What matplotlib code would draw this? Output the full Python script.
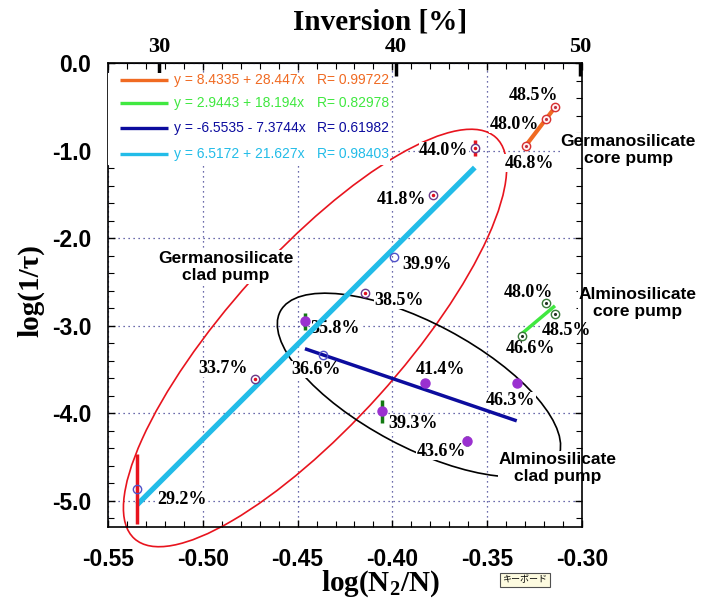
import numpy as np
import matplotlib.pyplot as plt
from matplotlib import transforms
from matplotlib.patches import Ellipse, Rectangle
from matplotlib.ticker import FixedLocator, MultipleLocator, NullLocator, FormatStrFormatter

plt.rcParams['axes.unicode_minus'] = False
plt.rcParams['mathtext.fontset'] = 'custom'
plt.rcParams['mathtext.rm'] = 'Liberation Serif:bold'
plt.rcParams['mathtext.it'] = 'Liberation Serif:bold'
plt.rcParams['mathtext.bf'] = 'Liberation Serif:bold'

# linear fits y = a + b*x
fit_a = [8.4335, 2.9443, -6.5535, 6.5172]
fit_b = [28.447, 18.194, -7.3744, 21.627]
fit_r = [0.99722, 0.82978, 0.61982, 0.98403]
fit_colors = ['#f06a22', '#40e840', '#0c0c9e', '#22bce8']

# measured points, x = log10(inversion)
ge_core_inv = [46.8, 48.0, 48.5]
ge_core_y = [-0.95, -0.64, -0.50]

al_core_inv = [46.6, 48.0, 48.5]
al_core_y = [-3.12, -2.74, -2.87]

al_clad_inv = [35.8, 39.3, 41.4, 43.6, 46.3]
al_clad_y = [-2.95, -3.98, -3.66, -4.32, -3.66]
al_clad_err = [0.10, 0.13, 0.0, 0.06, 0.0]

ge_clad_open_inv = [29.2, 36.6, 39.9]
ge_clad_open_y = [-4.87, -3.34, -2.22]
ge_clad_open_err = [0.40, 0.0, 0.0]

ge_clad_dot_inv = [33.7, 38.5, 41.8, 44.0]
ge_clad_dot_y = [-3.61, -2.63, -1.51, -0.97]
ge_clad_dot_err = [0.05, 0.0, 0.0, 0.09]

x_ticks = [-0.55, -0.50, -0.45, -0.40, -0.35, -0.30]
y_ticks = [0.0, -1.0, -2.0, -3.0, -4.0, -5.0]
top_ticks = [30, 40, 50]

# label offsets in pixels (dx, dy) for each point label
ge_core_off = [(4, -17), (-32, -5), (-21, 11)]
al_core_off = [(8, -12), (-18, 10), (12, -16)]
al_clad_off = [(30, -7), (31, -12), (16, 14), (-26, -10), (-6, -17)]
ge_clad_open_off = [(45, -10), (-7, -14), (33, -7)]
ge_clad_dot_off = [(-32, 11), (34, -7), (-31, -4), (-31, -3)]


def logx(inv):
    return np.log10(np.asarray(inv) / 100.0)


fig = plt.figure(figsize=(7.03, 6.06), dpi=100)
ax = fig.add_axes([108 / 703, 1 - 527 / 606, 474 / 703, 464 / 606])
ax.set_xlim(-0.55, -0.30)
ax.set_ylim(-5.3, 0.0)

ax.set_axisbelow(True)
ax.grid(True, which='major', linestyle=(0, (1, 3)), color='#3a3a90', linewidth=0.9)

serif = 'Liberation Serif'
sans = 'Liberation Sans'

# ellipses grouping the data (drawn in pixel units around a data centre)
def pixel_ellipse(cx, cy, a_px, b_px, angle, color, lw):
    tr = fig.dpi_scale_trans + transforms.ScaledTranslation(cx, cy, ax.transData)
    e = Ellipse((0, 0), 2 * a_px / fig.dpi, 2 * b_px / fig.dpi, angle=angle,
                transform=tr, fill=False, edgecolor=color, linewidth=lw,
                zorder=1.5, clip_on=False)
    ax.add_patch(e)

pixel_ellipse(-0.4408, -3.141, 270, 86, 48, '#e8141e', 1.2)
pixel_ellipse(-0.386, -3.678, 157, 62, -28, 'black', 1.2)

# fit lines
series_x = [logx(ge_core_inv), logx(al_core_inv), logx(al_clad_inv),
            logx(ge_clad_open_inv + ge_clad_dot_inv)]
line_w = [3.0, 2.5, 2.5, 3.8]
for xs, a, b, c, w in zip(series_x, fit_a, fit_b, fit_colors, line_w):
    xx = np.array([xs.min(), xs.max()])
    ax.plot(xx, a + b * xx, color=c, linewidth=w, solid_capstyle='butt', zorder=3)

# error bars
ax.errorbar(logx(al_clad_inv), al_clad_y, yerr=al_clad_err, fmt='none',
            ecolor='#127a12', elinewidth=2.5, capsize=0, zorder=3.5)
ax.errorbar(logx(ge_clad_open_inv), ge_clad_open_y, yerr=ge_clad_open_err, fmt='none',
            ecolor='#e8141e', elinewidth=2.5, capsize=0, zorder=3.5)
ax.errorbar(logx(ge_clad_dot_inv), ge_clad_dot_y, yerr=ge_clad_dot_err, fmt='none',
            ecolor='#e8141e', elinewidth=2.5, capsize=0, zorder=3.5)

# markers
ax.plot(logx(ge_core_inv), ge_core_y, 'o', ms=6, mfc='#fff0f0', mec='#d83030', mew=1, zorder=4)
ax.plot(logx(ge_core_inv), ge_core_y, '.', ms=2.5, color='#c03040', zorder=4.1)
ax.plot(logx(al_core_inv), al_core_y, 'o', ms=6, mfc='white', mec='#3a7a3a', mew=1, zorder=4)
ax.plot(logx(al_core_inv), al_core_y, '.', ms=2.5, color='#203020', zorder=4.1)
ax.plot(logx(al_clad_inv), al_clad_y, 'o', ms=6.5, mfc='#9a30d0', mec='#9a30d0', zorder=4)
ax.plot(logx(ge_clad_open_inv), ge_clad_open_y, 'o', ms=6, mfc='none', mec='#5050c8', mew=1, zorder=4)
ax.plot(logx(ge_clad_dot_inv), ge_clad_dot_y, 'o', ms=6, mfc='white', mec='#6a3a8a', mew=1, zorder=4)
ax.plot(logx(ge_clad_dot_inv), ge_clad_dot_y, '.', ms=3, color='#e01020', zorder=4.1)

# percent labels
label_box = dict(facecolor='white', edgecolor='none', pad=0.3)
for inv, ys, offs in [(ge_core_inv, ge_core_y, ge_core_off),
                      (al_core_inv, al_core_y, al_core_off),
                      (al_clad_inv, al_clad_y, al_clad_off),
                      (ge_clad_open_inv, ge_clad_open_y, ge_clad_open_off),
                      (ge_clad_dot_inv, ge_clad_dot_y, ge_clad_dot_off)]:
    for p, yv, (dx, dy) in zip(inv, ys, offs):
        ax.annotate(f'{p:.1f}%', (np.log10(p / 100), yv),
                    xytext=(dx * 0.72, dy * 0.72), textcoords='offset points',
                    ha='center', va='center', fontsize=13, fontfamily=serif,
                    fontweight='bold', bbox=label_box, zorder=2, annotation_clip=False)

# group names
group_box = dict(facecolor='white', edgecolor='none', pad=0.5)
for tx, ty, s in [(-0.2757, -0.994, 'Germanosilicate\ncore pump'),
                  (-0.2705, -2.741, 'Alminosilicate\ncore pump'),
                  (-0.3127, -4.626, 'Alminosilicate\nclad pump'),
                  (-0.4878, -2.330, 'Germanosilicate\nclad pump')]:
    ax.text(tx, ty, s, ha='center', va='center', fontsize=12.5, fontfamily=sans,
            fontweight='bold', linespacing=1.2, bbox=group_box, zorder=2, clip_on=False)

# legend box with fit equations
ax.add_patch(Rectangle((0.0, 0.78), 0.595, 0.198, transform=ax.transAxes,
                       facecolor='white', edgecolor='none', zorder=5))
row_y = [0.963, 0.914, 0.860, 0.804]
for a, b, r, c, yy in zip(fit_a, fit_b, fit_r, fit_colors, row_y):
    ax.plot([0.025, 0.127], [yy, yy], color=c, linewidth=2.4, transform=ax.transAxes,
            zorder=6, solid_capstyle='butt')
    sign = '+' if b >= 0 else '-'
    ax.text(0.139, yy, f'y = {a} {sign} {abs(b)}x', color=c, fontsize=10,
            fontfamily=sans, va='center', transform=ax.transAxes, zorder=6)
    ax.text(0.441, yy, f'R= {r}', color=c, fontsize=10, fontfamily=sans,
            va='center', transform=ax.transAxes, zorder=6)

# ticks
ax.xaxis.set_major_locator(FixedLocator(x_ticks))
ax.xaxis.set_minor_locator(MultipleLocator(0.01))
ax.yaxis.set_major_locator(FixedLocator(y_ticks))
ax.yaxis.set_minor_locator(MultipleLocator(0.2))
ax.xaxis.set_major_formatter(FormatStrFormatter('%.2f'))
ax.yaxis.set_major_formatter(FormatStrFormatter('%.1f'))
ax.tick_params(which='both', direction='in', top=True, right=True)
ax.tick_params(which='major', length=5, width=1)
ax.tick_params(which='minor', length=4, width=0.8)
ax.tick_params(axis='x', pad=15)
ax.tick_params(axis='y', pad=12)
for lbl in ax.get_xticklabels() + ax.get_yticklabels():
    lbl.set_fontfamily(sans)
    lbl.set_fontweight('bold')
    lbl.set_fontsize(16.5)
for sp in ax.spines.values():
    sp.set_linewidth(1.2)

# top axis in inversion percent
sec = ax.secondary_xaxis('top', functions=(lambda x: 100 * 10 ** np.asarray(x),
                                           lambda p: np.log10(np.clip(np.asarray(p, float), 1e-6, None) / 100)))
sec.set_xticks(top_ticks)
sec.xaxis.set_minor_locator(NullLocator())
sec.tick_params(direction='in', length=9, width=2.5, pad=4)
sec.set_xticklabels([str(t) for t in top_ticks], fontfamily=serif, fontweight='bold', fontsize=16)

ax.text(0.574, 1.073, 'Inversion [%]', transform=ax.transAxes, ha='center',
        va='baseline', fontsize=21, fontfamily=serif, fontweight='bold')

ax.set_xlabel(r'log(N$_{2}$/N)', fontsize=21, fontfamily=serif, fontweight='bold')
ax.xaxis.set_label_coords(0.574, -0.09)
ax.set_ylabel('log(1/τ)', fontsize=21, fontfamily=serif, fontweight='bold')
ax.yaxis.set_label_coords(-0.135, 0.51)

fig.text(525 / 703, 1 - 580 / 606, 'キーボード', fontsize=6.5,
         family=['Noto Sans CJK JP', 'DejaVu Sans'], ha='center', va='center',
         bbox=dict(facecolor='#fdfbe0', edgecolor='#505050', linewidth=0.8, pad=1.5))

fig.savefig('out.png', dpi=100)
